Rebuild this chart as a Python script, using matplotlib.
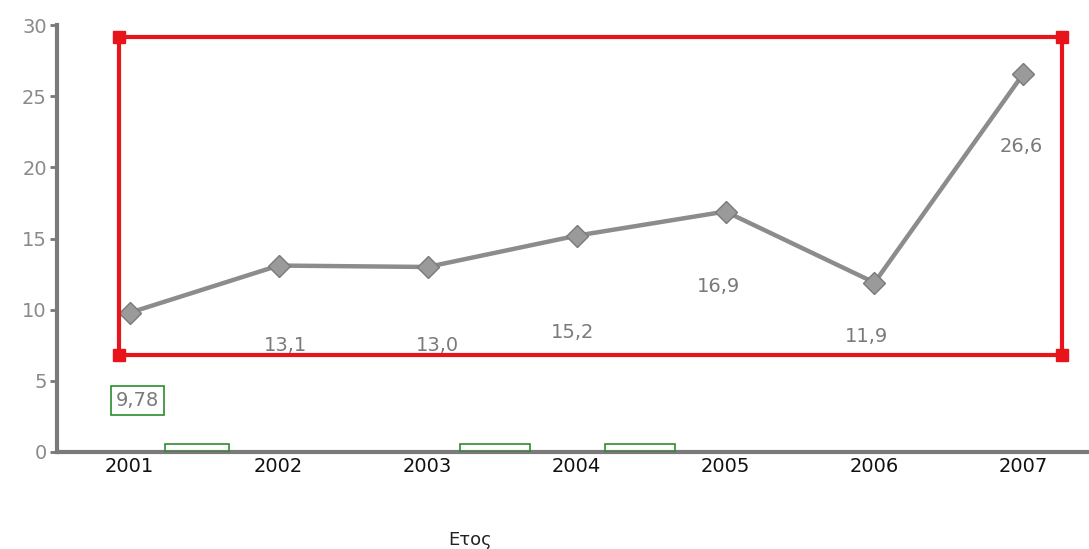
import matplotlib.pyplot as plt
from matplotlib.patches import Rectangle

years = [2001, 2002, 2003, 2004, 2005, 2006, 2007]
values = [9.78, 13.1, 13.0, 15.2, 16.9, 11.9, 26.6]
labels = ['9,78', '13,1', '13,0', '15,2', '16,9', '11,9', '26,6']
# where each value label sits under its point, in pixels (dx, dy)
label_offsets = [(8, -88), (7, -80), (10, -79), (-4, -97), (-7, -75), (-8, -54), (-2, -73)]

fig = plt.figure(figsize=(10.89, 5.49), dpi=100)
ax = fig.add_axes([0.052, 0.177, 0.948, 0.777])

ax.plot(years, values, '-', color='#8c8c8c', linewidth=3.2,
        marker='D', markersize=11, markerfacecolor='#9a9a9a', markeredgecolor='#7a7a7a')

for i in range(len(years)):
    dx, dy = label_offsets[i]
    box = None
    if i == 0:
        box = dict(boxstyle='square,pad=0.25', facecolor='none', edgecolor='#2e8b2e', linewidth=1.2)
    ax.annotate(labels[i], (years[i], values[i]), xytext=(dx * 0.72, dy * 0.72),
                textcoords='offset points', ha='center', va='center',
                fontsize=14, color='#7a7a7a', bbox=box)

# red highlight frame with square corners
rx0, rx1, ry0, ry1 = 2000.93, 2007.26, 6.82, 29.16
ax.add_patch(Rectangle((rx0, ry0), rx1 - rx0, ry1 - ry0, fill=False,
                       edgecolor='#e8141c', linewidth=3, zorder=5))
ax.plot([rx0, rx1, rx0, rx1], [ry0, ry0, ry1, ry1], 's', color='#e8141c',
        markersize=8, zorder=6)

# small green marks on the x axis
for gx0, gx1 in [(2001.24, 2001.67), (2003.22, 2003.69), (2004.19, 2004.66)]:
    ax.add_patch(Rectangle((gx0, 0), gx1 - gx0, 0.55, fill=False,
                           edgecolor='#2e8b2e', linewidth=1.2, zorder=4))

ax.set_xlim(2000.51, 2007.44)
ax.set_ylim(0, 30)
ax.set_xticks(years)
ax.set_yticks(range(0, 31, 5))
ax.tick_params(axis='x', labelsize=14, labelcolor='#111111', length=0, pad=4)
ax.tick_params(axis='y', labelsize=14, labelcolor='#8a8a8a', color='#777777',
               length=5, width=2, direction='out', pad=2)
for s in ['top', 'right']:
    ax.spines[s].set_visible(False)
for s in ['left', 'bottom']:
    ax.spines[s].set_color('#7a7a7a')
    ax.spines[s].set_linewidth(3)

fig.text(470 / 1089, 9 / 549, 'Ετος', ha='center', va='center', fontsize=13, color='#222222')

plt.savefig('out.png')
